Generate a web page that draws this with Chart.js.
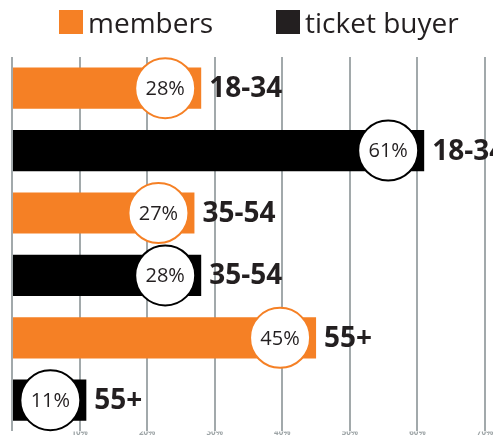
<!DOCTYPE html>
<html>
<head>
<meta charset="utf-8">
<script src="https://cdn.jsdelivr.net/npm/chart.js@4"></script>
<style>
  html, body { margin: 0; padding: 0; background: #fff; }
  #wrap { position: relative; width: 493px; height: 435px; overflow: hidden; }
  #legend { position: absolute; top: 0; left: 0; width: 493px; height: 50px; font-family: 'Open Sans', sans-serif; font-size: 28px; color: #231f20; }
  .item { position: absolute; top: 2px; display: flex; align-items: center; height: 40px; }
  .box { width: 24px; height: 24px; margin-right: 5px; }
  canvas { position: absolute; top: 0; left: 0; }
</style>
</head>
<body>
<div id="wrap">
  <canvas id="chart" width="493" height="435"></canvas>
  <div id="legend"></div>
</div>
<script>
// Age split of members vs ticket buyers
const ageGroups = ['18-34', '35-54', '55+'];
const membersPct = [28, 27, 45];
const ticketBuyerPct = [61, 28, 11];
const seriesNames = ['members', 'ticket buyer'];
const seriesColors = ['#f58025', '#000000'];
const tickValues = [0, 10, 20, 30, 40, 50, 60, 70];

// one row per bar: members row then ticket buyer row for each age group
const rowLabels = [];
const membersRows = [];
const buyerRows = [];
ageGroups.forEach((g, i) => {
    rowLabels.push(g, g);
    membersRows.push(membersPct[i], null);
    buyerRows.push(null, ticketBuyerPct[i]);
});

// legend
const legendLeft = [59, 276];
const legendBox = ['#f58025', '#231f20'];
document.getElementById('legend').innerHTML = seriesNames.map((n, i) =>
    `<div class="item" style="left:${legendLeft[i]}px"><div class="box" style="background:${legendBox[i]}"></div>${n}</div>`
).join('');

const bubbleLabels = {
    id: 'bubbleLabels',
    afterDatasetsDraw(chart) {
        const ctx = chart.ctx;
        const xScale = chart.scales.x;
        chart.data.datasets.forEach((ds, di) => {
            const meta = chart.getDatasetMeta(di);
            meta.data.forEach((bar, i) => {
                const v = ds.data[i];
                if (v === null) return;
                const end = xScale.getPixelForValue(v);
                const cx = end - 36;
                const cy = bar.y;
                ctx.save();
                ctx.beginPath();
                ctx.arc(cx, cy, 30, 0, Math.PI * 2);
                ctx.fillStyle = '#fff';
                ctx.fill();
                ctx.lineWidth = 2;
                ctx.strokeStyle = seriesColors[di];
                ctx.stroke();
                ctx.fillStyle = '#231f20';
                ctx.textAlign = 'center';
                ctx.textBaseline = 'middle';
                ctx.font = '20px "Open Sans"';
                ctx.fillText(v + '%', cx, cy + 1);
                ctx.textAlign = 'left';
                ctx.font = 'bold 28px "Open Sans"';
                ctx.fillText(rowLabels[i], end + 8, cy + 1);
                ctx.restore();
            });
        });
    }
};

new Chart(document.getElementById('chart'), {
    type: 'bar',
    data: {
        labels: rowLabels,
        datasets: [
            { label: seriesNames[0], data: membersRows, backgroundColor: seriesColors[0], grouped: false, barPercentage: 0.66, categoryPercentage: 1 },
            { label: seriesNames[1], data: buyerRows, backgroundColor: seriesColors[1], grouped: false, barPercentage: 0.66, categoryPercentage: 1 }
        ]
    },
    options: {
        responsive: false,
        animation: false,
        indexAxis: 'y',
        layout: { padding: { top: 57, left: 12, right: 8, bottom: 0 } },
        plugins: { legend: { display: false }, tooltip: { enabled: false } },
        scales: {
            y: { display: false },
            x: {
                min: 0, max: 70,
                afterBuildTicks: axis => { axis.ticks = tickValues.map(v => ({ value: v })); },
                ticks: {
                    color: '#9da4a6', padding: -3, maxRotation: 0, autoSkip: false,
                    font: { family: 'Open Sans', size: 8, weight: 'bold' },
                    callback: v => v === 0 ? '' : v + '%'
                },
                grid: { color: '#a2a9ab', lineWidth: 2, drawTicks: false },
                border: { display: false }
            }
        }
    },
    plugins: [bubbleLabels]
});
</script>
</body>
</html>
